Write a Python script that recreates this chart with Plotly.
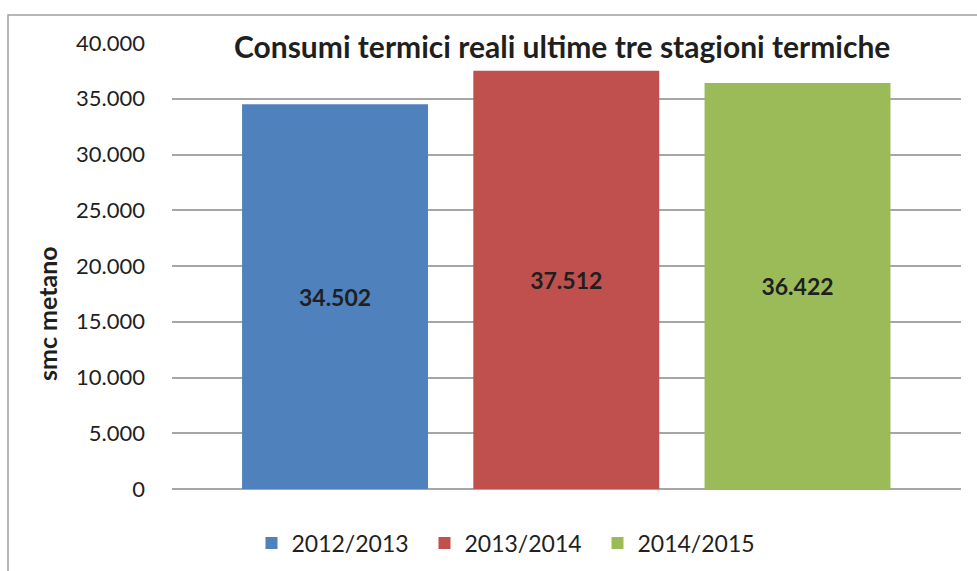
import plotly.graph_objects as go

seasons = ["2012/2013", "2013/2014", "2014/2015"]
consumi = [34502, 37512, 36422]
colors = ["#4F81BD", "#C0504D", "#9BBB59"]
tick_vals = [0, 5000, 10000, 15000, 20000, 25000, 30000, 35000, 40000]

FONT = "Lato"
TXT = "#1F1F1F"

fig = go.Figure()
for s, v, c in zip(seasons, consumi, colors):
    fig.add_trace(go.Bar(
        x=[s], y=[v], name=s, marker=dict(color=c, line=dict(width=0)),
        width=0.804,
        texttemplate="<b>%{y:,.0f}</b>", textposition="inside",
        insidetextanchor="middle",
        textfont=dict(family=FONT, size=23, color=TXT),
        hoverinfo="skip",
    ))

W, H = 977, 571
L, R, T, B = 172, 16, 43, 82
pw = W - L - R
ph = H - T - B

fig.update_layout(
    width=W, height=H,
    margin=dict(l=L, r=R, t=T, b=B, autoexpand=False),
    paper_bgcolor="white", plot_bgcolor="white",
    barmode="overlay",
    separators=",.",
    showlegend=True,
    font=dict(family=FONT, color=TXT),
    xaxis=dict(type="category", range=[-0.705, 2.707], showticklabels=False,
               showgrid=False, zeroline=False, showline=False, ticks=""),
    yaxis=dict(range=[0, 40000], tickvals=tick_vals, tickformat=",.0f",
               showgrid=True, gridcolor="#A6A6A6", gridwidth=2,
               zeroline=True, zerolinecolor="#A6A6A6", zerolinewidth=2,
               showline=False, ticks="", ticklabelstandoff=26,
               tickfont=dict(family=FONT, size=22, color=TXT)),
    legend=dict(orientation="h", x=(511 - L) / pw, xanchor="center",
                y=(H - B - 543) / ph, yanchor="middle",
                font=dict(family=FONT, size=23, color=TXT),
                itemwidth=30, entrywidth=128, entrywidthmode="pixels",
                traceorder="normal", bgcolor="rgba(0,0,0,0)"),
    annotations=[
        dict(text="<b>Consumi termici reali ultime tre stagioni termiche</b>",
             xref="paper", yref="paper", x=(562 - L) / pw, y=(H - B - 46) / ph,
             xanchor="center", yanchor="middle", showarrow=False,
             font=dict(family=FONT, size=30, color=TXT)),
        dict(text="<b>smc metano</b>", textangle=-90,
             xref="paper", yref="paper", x=(47 - L) / pw, y=(H - B - 313) / ph,
             xanchor="center", yanchor="middle", showarrow=False,
             font=dict(family=FONT, size=25, color=TXT)),
    ],
    shapes=[
        dict(type="rect", xref="paper", yref="paper",
             x0=(8 - L) / pw, x1=1.2, y0=-0.5, y1=(H - B - 15) / ph,
             line=dict(color="#A0A0A0", width=1.5), fillcolor="rgba(0,0,0,0)",
             layer="below"),
    ],
)

fig.write_html("out.html", config={"displayModeBar": False},
               post_script="document.body.style.margin='0';document.body.style.overflow='hidden';")
